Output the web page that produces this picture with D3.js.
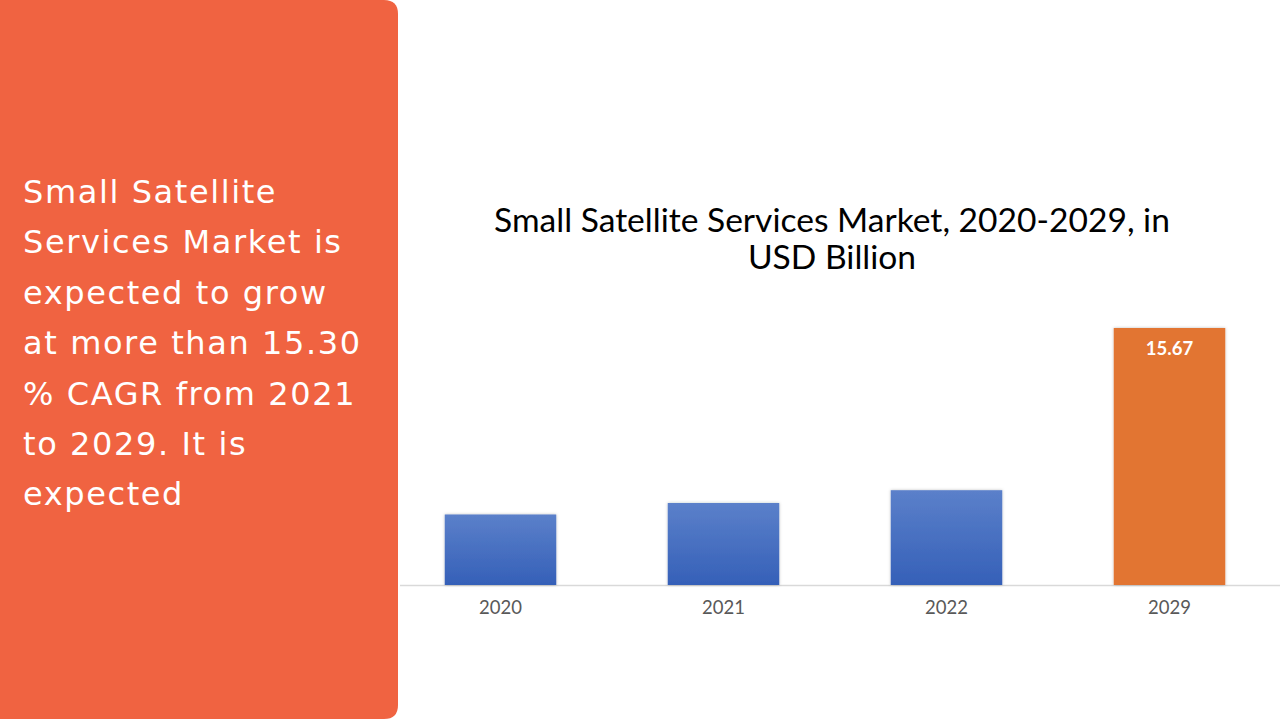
<!DOCTYPE html>
<html>
<head>
	<meta charset="utf-8">
	<title>Small Satellite Services Market</title>
	<script src="https://d3js.org/d3.v7.min.js"></script>
	<style>
		body { margin: 0; background: #fff; }
		svg { display: block; }
	</style>
</head>
<body>
	<script>
		// DATA
		var years = ["2020", "2021", "2022", "2029"];
		var values = [4.3, 5.0, 5.78, 15.67];
		var shownLabels = [null, null, null, "15.67"];
		var blurbLines = ["Small Satellite", "Services Market is", "expected to grow",
			"at more than 15.30", "% CAGR from 2021", "to 2029. It is", "expected"];
		var titleLines = ["Small Satellite Services Market, 2020-2029, in", "USD Billion"];

		// SET UP SVG
		var width = 1280,
			height = 720;
		var svg = d3.select("body").append("svg")
			.attr("width", width)
			.attr("height", height);

		var defs = svg.append("defs");
		var grad = defs.append("linearGradient").attr("id", "blueGrad")
			.attr("x1", 0).attr("y1", 0).attr("x2", 0).attr("y2", 1);
		grad.append("stop").attr("offset", "0%").attr("stop-color", "#5b80ca");
		grad.append("stop").attr("offset", "100%").attr("stop-color", "#3560b8");
		var shadow = defs.append("filter").attr("id", "shadow")
			.attr("x", "-10%").attr("y", "-10%").attr("width", "120%").attr("height", "120%");
		shadow.append("feDropShadow").attr("dx", 0).attr("dy", 0)
			.attr("stdDeviation", 1.5).attr("flood-color", "#000").attr("flood-opacity", 0.25);

		// left panel, rounded on the right side only
		var pw = 398, ph = 719, r = 14;
		svg.append("path")
			.attr("d", "M0,0 H" + (pw - r) + " Q" + pw + ",0 " + pw + "," + r +
				" V" + (ph - r) + " Q" + pw + "," + ph + " " + (pw - r) + "," + ph + " H0 Z")
			.attr("fill", "#f06341");

		svg.append("g").selectAll("text")
			.data(blurbLines).enter().append("text")
			.attr("x", 23)
			.attr("y", function(d, i) { return 203 + i * 50.4; })
			.attr("fill", "#fff")
			.style("font-family", "'DejaVu Sans', sans-serif")
			.style("font-size", "32px")
			.style("letter-spacing", "1.6px")
			.text(function(d) { return d; });

		// title
		svg.append("g").selectAll("text")
			.data(titleLines).enter().append("text")
			.attr("x", 832)
			.attr("y", function(d, i) { return 232 + i * 37; })
			.attr("text-anchor", "middle")
			.attr("fill", "#000")
			.style("font-family", "Lato, sans-serif")
			.style("font-size", "33.6px")
			.text(function(d) { return d; });

		// SCALES
		var baseY = 585;
		var x = d3.scaleBand().domain(years).range([389, 1281]).paddingInner(0.5).paddingOuter(0.25);
		var y = d3.scaleLinear().domain([0, 15.67]).range([baseY, 328]);

		// baseline
		svg.append("line")
			.attr("x1", 400).attr("x2", 1280)
			.attr("y1", baseY + 0.5).attr("y2", baseY + 0.5)
			.attr("stroke", "#d9d9d9").attr("stroke-width", 1.5);

		// bars
		svg.append("g").selectAll("rect")
			.data(values).enter().append("rect")
			.attr("x", function(d, i) { return x(years[i]); })
			.attr("y", function(d) { return y(d); })
			.attr("width", x.bandwidth())
			.attr("height", function(d) { return baseY - y(d); })
			.attr("fill", function(d, i) { return i == 3 ? "#e27431" : "url(#blueGrad)"; })
			.attr("filter", "url(#shadow)");

		// value labels
		svg.append("g").selectAll("text")
			.data(values).enter().append("text")
			.filter(function(d, i) { return shownLabels[i] != null; })
			.attr("x", function(d) { return x(years[values.indexOf(d)]) + x.bandwidth() / 2; })
			.attr("y", function(d) { return y(d) + 27; })
			.attr("text-anchor", "middle")
			.attr("fill", "#fff")
			.style("font-family", "Lato, sans-serif")
			.style("font-weight", "bold")
			.style("font-size", "18.5px")
			.text(function(d) { return shownLabels[values.indexOf(d)]; });

		// x axis labels
		var xAxis = d3.axisBottom(x).tickSize(0).tickPadding(0);
		var ax = svg.append("g").attr("transform", "translate(0," + (baseY + 29) + ")").call(xAxis);
		ax.select(".domain").remove();
		ax.selectAll("text")
			.attr("dy", 0)
			.attr("fill", "#595959")
			.style("font-family", "Lato, sans-serif")
			.style("font-size", "18.5px");
	</script>
</body>
</html>
